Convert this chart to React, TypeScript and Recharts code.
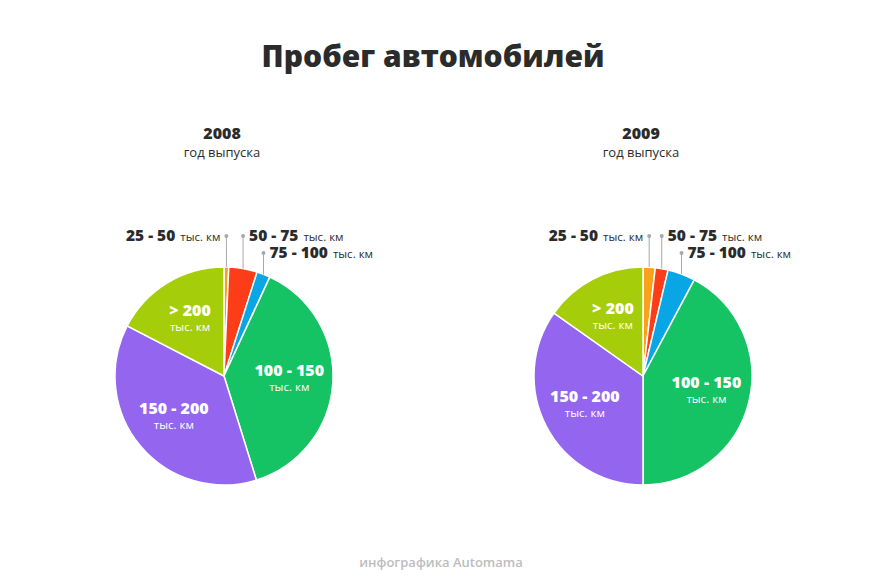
import { PieChart, Pie, Cell } from "recharts";

const categories = ["25 - 50", "50 - 75", "75 - 100", "100 - 150", "150 - 200", "> 200"];
const colors = ["#f9a11b", "#fc3d18", "#09a6e6", "#15c264", "#9466f0", "#a6cd0a"];
const values2008 = [0.7, 4.2, 2.0, 38.3, 37.4, 17.4];
const values2009 = [1.8, 1.9, 4.1, 42.2, 34.8, 15.2];
const years = ["2008", "2009"];

const RAD = Math.PI / 180;
const FONT = "'Open Sans', 'DejaVu Sans', sans-serif";
const TEXT = "#2b2b2b";

const toRows = (vals: number[]) => categories.map((name, i) => ({ name, value: vals[i] }));

function renderLabel(props: any) {
  const { cx, cy, midAngle, outerRadius, index, name } = props;
  const cos = Math.cos(-midAngle * RAD);
  const sin = Math.sin(-midAngle * RAD);
  if (index < 3) {
    // small slices: vertical leader line up to a dot, text beside it
    const ex = cx + outerRadius * cos;
    const ey = cy + outerRadius * sin;
    const dotY = index === 2 ? cy - outerRadius - 14 : cy - outerRadius - 31;
    const left = index === 0;
    return (
      <g key={`l-${index}`}>
        <line x1={ex} y1={ey} x2={ex} y2={dotY} stroke="#a8a8a8" strokeWidth={1} />
        <circle cx={ex} cy={dotY} r={2} fill="#a8a8a8" />
        <text
          x={left ? ex - 6 : ex + 6}
          y={dotY + 5}
          textAnchor={left ? "end" : "start"}
          fill={TEXT}
          fontFamily={FONT}
        >
          <tspan fontSize={15.5} fontWeight={800}>{name}</tspan>
          <tspan fontSize={11.5} dx={5}>тыс. км</tspan>
        </text>
      </g>
    );
  }
  const r = outerRadius * 0.6;
  const x = cx + r * cos;
  const y = cy + r * sin;
  return (
    <g key={`l-${index}`}>
      <text x={x} y={y - 4} textAnchor="middle" fill="#fff" fontFamily={FONT} fontSize={16} fontWeight={800}>
        {name}
      </text>
      <text x={x} y={y + 11} textAnchor="middle" fill="#fff" fontFamily={FONT} fontSize={11.5}>
        тыс. км
      </text>
    </g>
  );
}

const pies = [
  { year: years[0], data: toRows(values2008), cx: 224 },
  { year: years[1], data: toRows(values2009), cx: 643 },
];

export default function App() {
  return (
    <div style={{ margin: -8, width: 874, height: 588, position: "relative", background: "#fff" }}>
      <PieChart width={874} height={588} margin={{ top: 0, right: 0, bottom: 0, left: 0 }}>
        {pies.map((p) => (
          <Pie
            key={p.year}
            data={p.data}
            dataKey="value"
            nameKey="name"
            cx={p.cx}
            cy={376}
            outerRadius={109}
            startAngle={90}
            endAngle={-270}
            stroke="#fff"
            strokeWidth={1.5}
            label={renderLabel}
            labelLine={false}
            isAnimationActive={false}
          >
            {p.data.map((d, i) => (
              <Cell key={d.name} fill={colors[i]} />
            ))}
          </Pie>
        ))}
      </PieChart>
      <svg width={874} height={588} style={{ position: "absolute", left: 0, top: 0, pointerEvents: "none" }}>
        <text x={433} y={67} textAnchor="middle" fontFamily={FONT} fontSize={30} fontWeight={800} fill={TEXT}>
          Пробег автомобилей
        </text>
        {pies.map((p) => (
          <g key={p.year}>
            <text x={p.cx - 2} y={139} textAnchor="middle" fontFamily={FONT} fontSize={16} fontWeight={800} fill={TEXT}>
              {p.year}
            </text>
            <text x={p.cx - 2} y={157} textAnchor="middle" fontFamily={FONT} fontSize={13} fill={TEXT}>
              год выпуска
            </text>
          </g>
        ))}
        <text x={441} y={567} textAnchor="middle" fontFamily={FONT} fontSize={13} fontWeight={600} fill="#bdbdbd">
          инфографика Automama
        </text>
      </svg>
    </div>
  );
}
